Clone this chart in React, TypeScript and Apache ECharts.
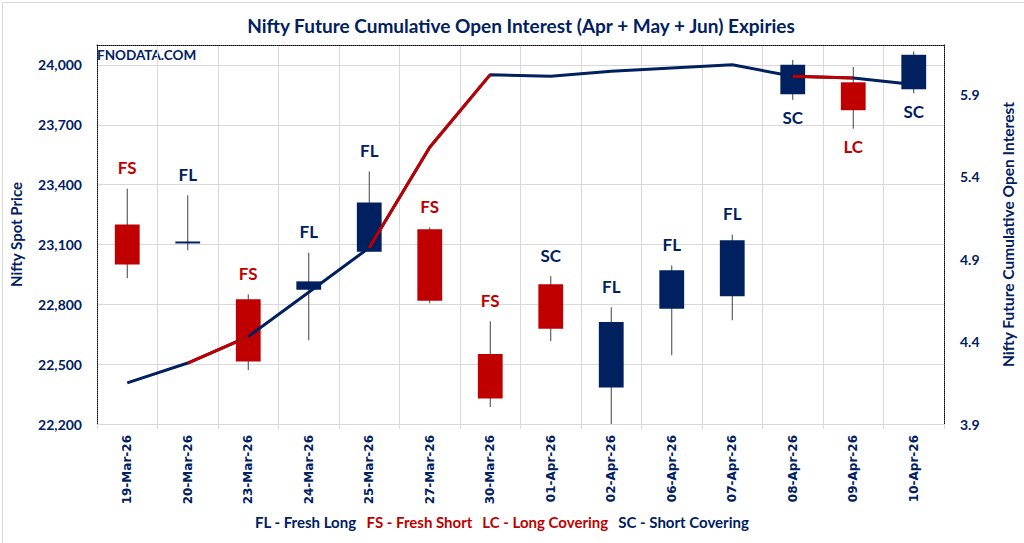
import { useEffect, useRef } from "react";
import * as echarts from "echarts";

const dates = [
  "19-Mar-26", "20-Mar-26", "23-Mar-26", "24-Mar-26", "25-Mar-26", "27-Mar-26", "30-Mar-26",
  "01-Apr-26", "02-Apr-26", "06-Apr-26", "07-Apr-26", "08-Apr-26", "09-Apr-26", "10-Apr-26",
];
const openP = [23200, 23110, 22826, 22873, 23063, 23176, 22551, 22901, 22383, 22778, 22840, 23853, 23913, 23878];
const closeP = [23000, 23115, 22513, 22915, 23311, 22818, 22328, 22678, 22711, 22971, 23121, 24001, 23773, 24051];
const lowP = [22931, 23071, 22470, 22620, 23063, 22805, 22285, 22615, 22200, 22545, 22720, 23825, 23680, 23858];
const highP = [23380, 23346, 22850, 23058, 23466, 23185, 22715, 22941, 22785, 22995, 23150, 24025, 23990, 24068];
const cumOI = [4.15, 4.27, 4.43, 4.7, 4.97, 5.58, 6.02, 6.01, 6.04, 6.06, 6.08, 6.01, 6.0, 5.96];
const signals = ["FS", "FL", "FS", "FL", "FL", "FS", "FS", "SC", "FL", "FL", "FL", "SC", "LC", "SC"];
const signalPlacement = ["above", "above", "above", "above", "above", "above", "above", "above", "above", "above", "above", "below", "below", "below"];
const priceTicks = { min: 22200, max: 24100, interval: 300 };
const oiTicks = [3.9, 4.4, 4.9, 5.4, 5.9];
const oiRange = { min: 3.9, max: 6.2 };
const legendItems = [
  { code: "FL", text: "FL - Fresh Long" },
  { code: "FS", text: "FS - Fresh Short" },
  { code: "LC", text: "LC - Long Covering" },
  { code: "SC", text: "SC - Short Covering" },
];

const NAVY = "#002060";
const RED = "#C00000";
const GRID = "#D9D9D9";
const FONT = "Lato, 'Noto Sans', sans-serif";
const XFONT = "'DejaVu Sans', Verdana, sans-serif";
const isRed = (s: string) => s === "FS" || s === "LC";

export default function App() {
  const ref = useRef<HTMLDivElement>(null);

  useEffect(() => {
    if (!ref.current) return;
    const chart = echarts.init(ref.current, undefined, { renderer: "svg" });
    const n = dates.length;
    const redOI = cumOI.map((v, i) =>
      (i > 0 && isRed(signals[i])) || (i + 1 < n && isRed(signals[i + 1])) ? v : null
    );
    const candleData = dates.map((_, i) => [i, openP[i], closeP[i], lowP[i], highP[i]]);

    const rich: Record<string, any> = {};
    legendItems.forEach((it) => {
      rich[it.code] = {
        fill: isRed(it.code) ? RED : NAVY,
        color: isRed(it.code) ? RED : NAVY,
        fontFamily: FONT,
        fontWeight: "bold",
        fontSize: 15,
        padding: [0, 5, 0, 5],
      };
    });
    const legendText = legendItems.map((it) => `{${it.code}|${it.text}}`).join("");

    chart.setOption({
      animation: false,
      backgroundColor: "#fff",
      title: {
        text: "Nifty Future Cumulative Open Interest (Apr + May + Jun) Expiries",
        left: 516,
        textAlign: "center",
        top: 11,
        textStyle: { color: NAVY, fontFamily: FONT, fontWeight: "bold", fontSize: 19 },
      },
      grid: { left: 92, right: 75, top: 45, bottom: 119 },
      xAxis: [
        {
          type: "category",
          data: dates,
          boundaryGap: true,
          axisLine: { show: true, lineStyle: { color: GRID, width: 1 } },
          axisTick: { show: true, length: 5, lineStyle: { color: GRID } },
          splitLine: { show: true, lineStyle: { color: GRID, width: 1 } },
          axisLabel: {
            rotate: 90,
            margin: 11,
            color: NAVY,
            fontFamily: XFONT,
            fontWeight: "bold",
            fontSize: 12,
            interval: 0,
          },
        },
        {
          type: "category",
          data: dates,
          position: "top",
          axisLine: { show: true, lineStyle: { color: "#000", type: "dotted", width: 1 } },
          axisTick: { show: false },
          axisLabel: { show: false },
          splitLine: { show: false },
        },
      ],
      yAxis: [
        {
          type: "value",
          min: priceTicks.min,
          max: priceTicks.max,
          interval: priceTicks.interval,
          name: "Nifty Spot Price",
          nameLocation: "middle",
          nameGap: 74,
          nameTextStyle: { color: NAVY, fontFamily: FONT, fontWeight: "bold", fontSize: 15 },
          axisLine: { show: true, lineStyle: { color: "#000", type: "dotted", width: 1 } },
          axisTick: { show: false },
          splitLine: { show: true, lineStyle: { color: GRID, width: 1 } },
          axisLabel: {
            showMaxLabel: false,
            margin: 15,
            color: NAVY,
            fontFamily: FONT,
            fontWeight: "bold",
            fontSize: 14,
            formatter: (v: number) => v.toLocaleString("en-US"),
          },
        },
        {
          type: "value",
          position: "right",
          min: oiRange.min,
          max: oiRange.max,
          name: "Nifty Future Cumulative Open Interest",
          nameLocation: "middle",
          nameGap: 56,
          nameTextStyle: { color: NAVY, fontFamily: FONT, fontWeight: "bold", fontSize: 15.5 },
          axisLine: { show: true, lineStyle: { color: "#000", type: "dotted", width: 1 } },
          axisTick: { show: false },
          splitLine: { show: false },
          axisLabel: {
            customValues: oiTicks,
            margin: 16,
            color: NAVY,
            fontFamily: FONT,
            fontWeight: "bold",
            fontSize: 14,
            formatter: (v: number) => v.toFixed(1),
          },
        },
      ],
      graphic: [
        {
          type: "text",
          left: 97,
          top: 48,
          style: { text: "FNODATA.COM", fill: NAVY, font: `bold 13.5px ${FONT}` },
        },
        {
          type: "text",
          left: 255,
          top: 514,
          style: { text: legendText, rich, font: `bold 15px ${FONT}` },
        },
        {
          type: "rect",
          left: 0,
          top: 0,
          shape: { x: 0, y: 0, width: 1023, height: 542 },
          style: { fill: "none", stroke: GRID, lineWidth: 1 },
          silent: true,
        },
      ],
      series: [
        {
          type: "custom",
          xAxisIndex: 0,
          yAxisIndex: 0,
          data: candleData,
          encode: { x: 0, y: [1, 2, 3, 4] },
          z: 2,
          renderItem: (params: any, api: any) => {
            const i = api.value(0);
            const o = api.value(1);
            const c = api.value(2);
            const l = api.value(3);
            const h = api.value(4);
            const pO = api.coord([i, o]);
            const pC = api.coord([i, c]);
            const pL = api.coord([i, l]);
            const pH = api.coord([i, h]);
            const w = api.size([1, 0])[0] * 0.41;
            const up = c >= o;
            const top = Math.min(pO[1], pC[1]);
            const bh = Math.max(Math.abs(pO[1] - pC[1]), 2);
            const sig = signals[i];
            const below = signalPlacement[i] === "below";
            return {
              type: "group",
              children: [
                {
                  type: "line",
                  shape: { x1: pH[0], y1: pH[1], x2: pL[0], y2: pL[1] },
                  style: { stroke: "#404040", lineWidth: 1 },
                },
                {
                  type: "rect",
                  shape: { x: pO[0] - w / 2, y: top, width: w, height: bh },
                  style: { fill: up ? NAVY : RED },
                },
                {
                  type: "text",
                  x: pH[0],
                  y: below ? pL[1] + 18 : pH[1] - 21,
                  style: {
                    text: sig,
                    fill: isRed(sig) ? RED : NAVY,
                    font: `bold 17px ${FONT}`,
                    textAlign: "center",
                    textVerticalAlign: "middle",
                  },
                },
              ],
            };
          },
        },
        {
          type: "line",
          name: "Cumulative OI",
          xAxisIndex: 0,
          yAxisIndex: 1,
          data: cumOI,
          symbol: "none",
          lineStyle: { color: NAVY, width: 3 },
          z: 5,
        },
        {
          type: "line",
          name: "Cumulative OI (short build-up)",
          xAxisIndex: 0,
          yAxisIndex: 1,
          data: redOI,
          connectNulls: false,
          symbol: "none",
          lineStyle: { color: RED, width: 3 },
          z: 6,
        },
      ],
    });
    return () => chart.dispose();
  }, []);

  return (
    <div
      ref={ref}
      style={{ position: "fixed", left: 0, top: 0, width: 1024, height: 543, background: "#fff" }}
    />
  );
}
